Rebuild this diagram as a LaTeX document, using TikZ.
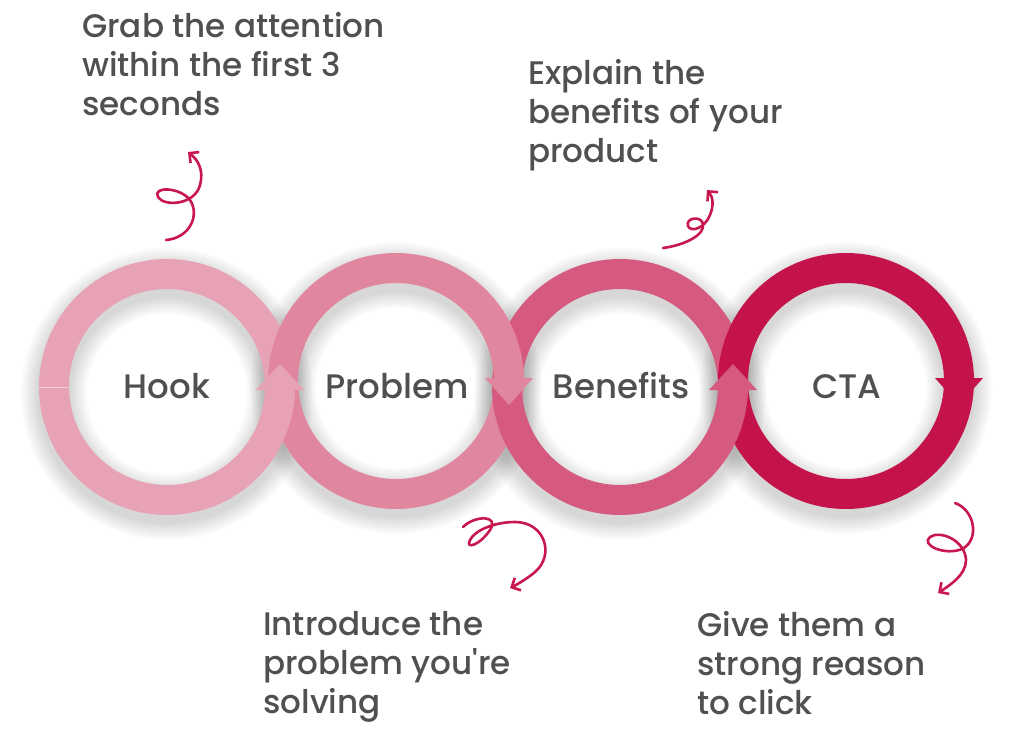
\documentclass[tikz,border=0pt]{standalone}
\usepackage{fontspec}
\setmainfont{Poppins}[UprightFont=* Medium,Ligatures=TeXOff]
\usetikzlibrary{arrows.meta}
\definecolor{hookpink}{HTML}{E8A2B6}
\definecolor{problempink}{HTML}{E0879F}
\definecolor{benefitspink}{HTML}{D65A80}
\definecolor{ctared}{HTML}{C4134B}
\definecolor{curlred}{HTML}{C8164E}
\definecolor{textgray}{HTML}{505050}
\tikzset{
  ringlabel/.style={font=\fontsize{34}{40}\selectfont,text=textgray,anchor=base},
  note/.style={font=\fontsize{32.6}{39}\selectfont,text=textgray,align=left,anchor=north west,inner sep=0pt},
  curl/.style={draw=curlred,line width=2.6,line cap=round,-{Straight Barb[length=7,width=14]}}
}
\begin{document}
\begin{tikzpicture}[x=1pt,y=-1pt]
				\useasboundingbox (0,0) rectangle (1024,752);
				\fill[white] (0,0) rectangle (1024,752);
				\foreach \x/\y in {167/387,396/381,620/387,846/381}{
					\foreach \k in {1,...,10}{
						\fill[black,opacity=0.015,even odd rule] (\x,\y+7) circle (128+\k*1.8) circle (98-\k*1.8);
					}
				}
				\draw[hookpink,line width=30] (167,387) circle (113);
				\draw[white,opacity=0.5,line width=0.8] (39,387) -- (69,387);
				\draw[problempink,line width=30] (396,381) circle (113);
				\draw[hookpink,line width=30] (280,387) arc[start angle=0,end angle=70,radius=113];
				\fill[hookpink] (256,390) -- (304,390) -- (280,364) -- cycle;
				\draw[benefitspink,line width=30] (620,387) circle (113);
				\draw[problempink,line width=30] (396,381) ++(-70:113) arc[start angle=-70,end angle=0,radius=113];
				\fill[problempink] (485,378) -- (533,378) -- (509,405) -- cycle;
				\draw[ctared,line width=30] (846,381) circle (113);
				\draw[benefitspink,line width=30] (733,387) arc[start angle=0,end angle=70,radius=113];
				\fill[benefitspink] (709,390) -- (757,390) -- (733,364) -- cycle;
				\fill[ctared] (935,378) -- (983,378) -- (959,405) -- cycle;

				\node[ringlabel] (hook) at (167,398) {Hook};
				\node[ringlabel] (problem) at (397,398) {Problem};
				\node[ringlabel] (benefits) at (621,398) {Benefits};
				\node[ringlabel] (cta) at (847,398) {CTA};

				\node[note] (hooknote) at (82,12) {Grab the attention\\within the first 3\\seconds};
				\node[note] (benefitsnote) at (528,59) {Explain the\\benefits of your\\product};
				\node[note] (problemnote) at (263,611) {Introduce the\\problem you're\\solving};
				\node[note] (ctanote) at (697,611) {Give them a\\strong reason\\to click};

				\draw[curl] (166,240) .. controls (190,238) and (200,215) .. (190,200) .. controls (180,187) and (152,186) .. (158,197) .. controls (164,207) and (195,205) .. (200,185) .. controls (204,170) and (198,160) .. (188,152);
				\draw[curl] (663,248) .. controls (685,245) and (705,235) .. (703,224) .. controls (701,215) and (685,218) .. (688,226) .. controls (691,233) and (705,228) .. (710,215) .. controls (714,205) and (713,197) .. (707,190);
				\draw[curl] (463,527) .. controls (475,515) and (500,515) .. (490,530) .. controls (480,545) and (465,550) .. (470,540) .. controls (475,530) and (495,522) .. (515,522) .. controls (545,522) and (555,555) .. (535,572) .. controls (528,578) and (518,584) .. (510,588);
				\draw[curl] (955,503) .. controls (975,510) and (980,540) .. (962,549) .. controls (945,556) and (920,545) .. (930,537) .. controls (940,530) and (965,540) .. (966,560) .. controls (966,575) and (950,585) .. (938,593);
\end{tikzpicture}
\end{document}
